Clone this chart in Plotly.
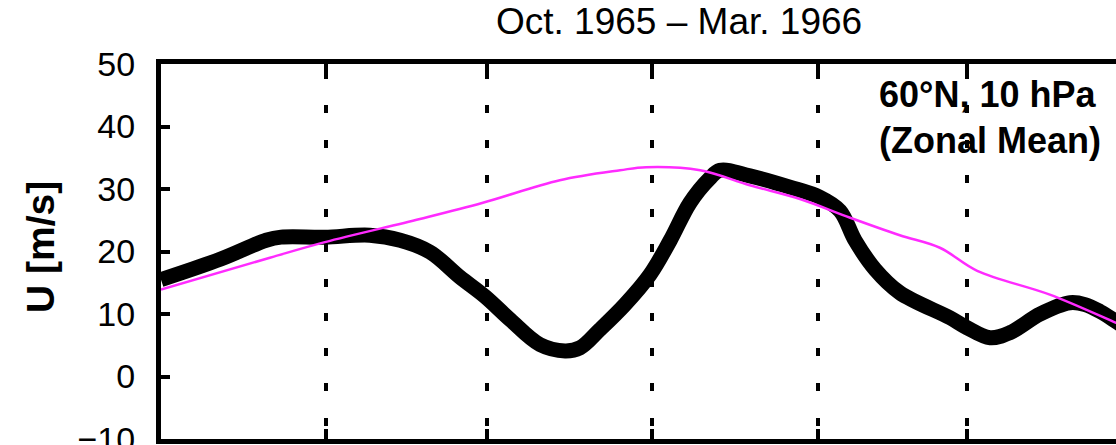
import pandas as pd
import plotly.graph_objects as go

# Season start; x positions are days since 1 Oct 1965
season_start = pd.Timestamp("1965-10-01")

# Observed zonal-mean zonal wind at 60N, 10 hPa (m/s)
obs_days = [0, 11.2, 19.7, 22.5, 30.7, 39.1, 44.8, 50.4, 56, 60.7, 65.4, 71, 75.7,
            78.5, 82.2, 86.9, 91.6, 95.4, 99.1, 102.8, 104.7, 110.3, 117.8, 123.4,
            127.2, 130, 133.8, 138.4, 147.8, 151, 155.3, 159, 164.7, 170.3, 173.1,
            175.9, 178.9, 182]
obs_wind = [15.5, 18.8, 21.8, 22.3, 22.3, 22.6, 21.8, 19.9, 15.9, 12.8, 9.1, 5.1, 4.1,
            4.6, 7.5, 11.5, 16.3, 21.8, 27.8, 31.7, 33.0, 32.1, 30.3, 28.7,
            26.5, 21.8, 17.1, 13.4, 9.4, 7.8, 6.2, 7.0, 10.0, 11.8, 11.5,
            10.4, 8.8, 7.0]

# Climatological mean
clim_days = [0, 20.4, 30.7, 48.5, 60.3, 74.7, 86, 90.9, 101, 110.3, 119.7,
             129.1, 138.4, 145.9, 152.9, 166.5, 178.9, 182]
clim_wind = [13.9, 19.0, 21.5, 25.2, 27.8, 31.4, 33.0, 33.5, 33.0, 30.6, 28.4,
             25.4, 22.6, 20.6, 16.9, 13.1, 8.6, 7.5]

# Month boundaries (vertical guide lines)
month_starts = ["1965-11-01", "1965-12-01", "1966-01-01", "1966-02-01", "1966-03-01"]

y_ticks = [-10, 0, 10, 20, 30, 40, 50]


def to_dates(days):
    return season_start + pd.to_timedelta(days, unit="D")


fig = go.Figure()
fig.add_trace(go.Scatter(
    x=to_dates(obs_days), y=obs_wind, mode="lines",
    line=dict(color="black", width=15, shape="spline", smoothing=1.0),
    hoverinfo="skip", showlegend=False,
))
fig.add_trace(go.Scatter(
    x=to_dates(clim_days), y=clim_wind, mode="lines",
    line=dict(color="#ff2bff", width=2.5, shape="spline", smoothing=1.0),
    hoverinfo="skip", showlegend=False,
))

font_family = "Liberation Sans, Arial, sans-serif"

fig.update_layout(
    width=1116, height=445,
    margin=dict(l=161, r=0, t=64, b=6),
    paper_bgcolor="white", plot_bgcolor="white",
    showlegend=False,
    font=dict(family=font_family, color="black"),
)

fig.update_xaxes(
    range=[to_dates([0])[0], to_dates([178.9])[0]],
    tickmode="array", tickvals=month_starts, showticklabels=False,
    ticks="inside", ticklen=10, tickwidth=4, tickcolor="black",
    showline=True, linewidth=5, linecolor="black", mirror="ticks",
    showgrid=True, gridcolor="black", gridwidth=3.5,
    griddash="0px,6.5px,8px,20.2px",
    zeroline=False, automargin=False,
)
fig.update_yaxes(
    range=[-10, 50],
    tickmode="array", tickvals=y_ticks,
    ticktext=[("\u221210" if v < 0 else str(v)) for v in y_ticks],
    ticks="inside", ticklen=9, tickwidth=4, tickcolor="black",
    tickfont=dict(size=34, family=font_family, color="black"),
    ticklabelstandoff=14, ticklabeloverflow="allow",
    showline=True, linewidth=5, linecolor="black", mirror=False,
    showgrid=False, zeroline=False, automargin=False,
)

# Title
fig.add_annotation(
    text="Oct. 1965 \u2013 Mar. 1966", xref="paper", yref="paper",
    x=0.5424, y=1.112, xanchor="center", yanchor="middle", showarrow=False,
    font=dict(size=37, family=font_family, color="black"),
)

# Station label inside the frame
fig.add_annotation(
    text="<b>60\u00b0N, 10 hPa</b>", xref="paper", yref="paper",
    x=0.7497, y=(439 - 94.5) / 375, xanchor="left", yanchor="middle", showarrow=False,
    font=dict(size=36, family=font_family, color="black"),
)
fig.add_annotation(
    text="<b>(Zonal Mean)</b>", xref="paper", yref="paper",
    x=0.7497, y=(439 - 140) / 375, xanchor="left", yanchor="middle", showarrow=False,
    font=dict(size=36, family=font_family, color="black"),
)

# Y-axis label
fig.add_annotation(
    text="<b>U [m/s]</b>", xref="paper", yref="paper",
    x=(40 - 161) / 955, y=(439 - 247) / 375, xanchor="center", yanchor="middle",
    textangle=-90, showarrow=False,
    font=dict(size=39, family=font_family, color="black"),
)

fig.write_html("out.html")
